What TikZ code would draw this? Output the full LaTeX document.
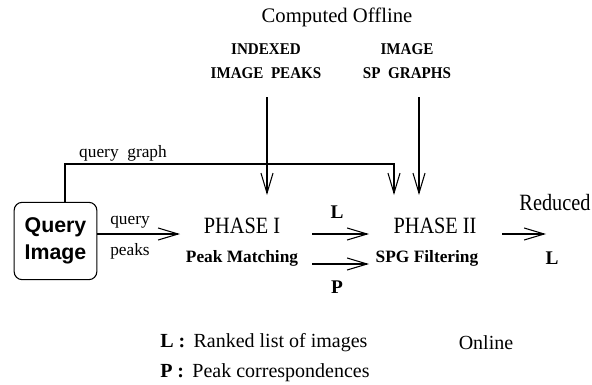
\documentclass[tikz,border=0pt]{standalone}
\usepackage{fontspec}
\setmainfont{Liberation Serif}
\newfontfamily\sansf{Liberation Sans}
\newfontfamily\tallf[FakeStretch=0.87]{Liberation Serif}
\newfontfamily\hdrf[FakeStretch=0.92]{Liberation Serif}
\usetikzlibrary{arrows.meta}
\begin{document}
\begin{tikzpicture}[x=0.75pt,y=-0.75pt,
  arr/.style={-{Straight Barb[length=15pt,width=9pt,line width=0.8pt]}, line width=0.8pt},
  big/.style={font=\fontsize{15}{17}\selectfont, inner sep=0pt},
  tall/.style={font=\tallf\fontsize{17.5}{20}\selectfont, inner sep=0pt},
  mid/.style={font=\fontsize{13}{15}\selectfont, inner sep=0pt},
  bmid/.style={font=\fontsize{13}{15}\selectfont\bfseries, inner sep=0pt},
  blet/.style={font=\fontsize{14.5}{17}\selectfont\bfseries, inner sep=0pt},
  hdr/.style={font=\hdrf\fontsize{12.3}{18}\selectfont\bfseries, align=center, inner sep=0pt},
  qbox/.style={draw, line width=0.8pt, rounded corners=6pt, minimum width=62pt, minimum height=58pt, align=center, inner sep=0pt, font=\fontsize{16}{20}\selectfont\sansf\bfseries}]
\useasboundingbox (0,0) rectangle (592,385);
% headings
\node[big, font=\fontsize{15.5}{17}\selectfont] (off) at (337,17) {Computed Offline};
\node[hdr] (idx) at (266,61) {INDEXED\\IMAGE\ \ PEAKS};
\node[hdr] (spg) at (407,61) {IMAGE\\SP\ \ GRAPHS};
% main nodes
\node[qbox] (q) at (55.5,241) {Query\\Image};
\node[tall] (p1) at (242,226) {PHASE I};
\node[bmid] (pm) at (242,258) {Peak Matching};
\node[tall] (p2) at (435,226) {PHASE II};
\node[bmid] (sf) at (427,258) {SPG Filtering};
\node[tall] (red) at (555,203) {Reduced};
\node[blet] (lout) at (552,258) {L};
% labels on arrows
\node[mid] (lq) at (130,222) {query};
\node[mid] (lp) at (130,251) {peaks};
\node[blet] (lL) at (337,212) {L};
\node[blet] (lP) at (337,287) {P};
\node[mid] (qg) at (123,153) {query\ \ graph};
% legend
\node[big, anchor=west] (leg1) at (160,343) {\textbf{L :}\, Ranked list of images};
\node[big, anchor=west] (leg2) at (160,373) {\textbf{P :}\, Peak correspondences};
\node[big] (onl) at (486,343) {Online};
% coordinates
\coordinate (t1) at (267,97);
\coordinate (e1) at (267,195);
\coordinate (t2) at (419,97);
\coordinate (e2) at (419,195);
\coordinate (g0) at (65,202);
\coordinate (g2) at (394,195);
\coordinate (a0) at (97,234);
\coordinate (a1) at (180,234);
\coordinate (b0) at (312,234);
\coordinate (b1) at (369,234);
\coordinate (c0) at (312,264);
\coordinate (c1) at (369,264);
\coordinate (d0) at (502,234);
\coordinate (d1) at (546,234);
% connectors
\draw[arr] (t1) -- (e1);
\draw[arr] (t2) -- (e2);
\draw[arr] (g0) |- (394,164) -- (g2);
\draw[arr] (a0) -- (a1);
\draw[arr] (b0) -- (b1);
\draw[arr] (c0) -- (c1);
\draw[arr] (d0) -- (d1);
\end{tikzpicture}
\end{document}
